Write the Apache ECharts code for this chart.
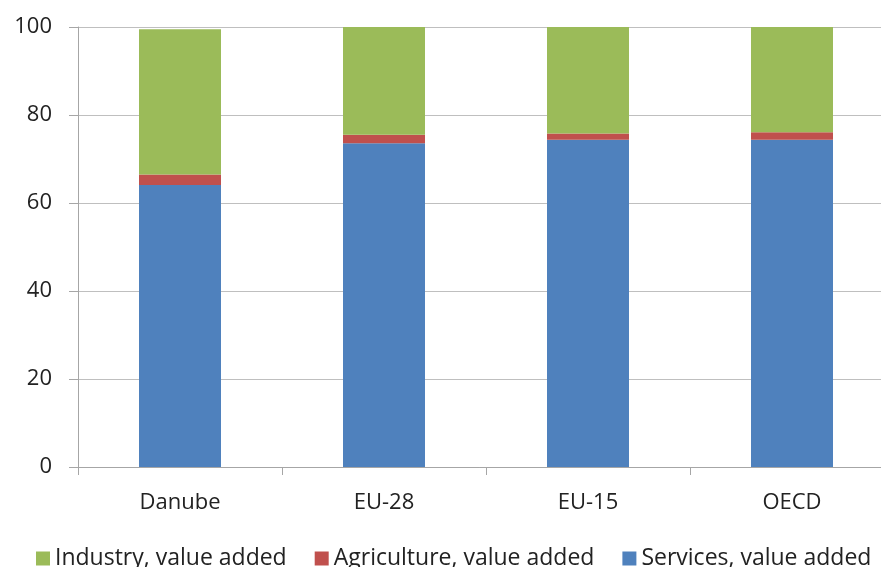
<!DOCTYPE html>
<html>
<head>
<meta charset="utf-8">
<script src="https://cdn.jsdelivr.net/npm/echarts@6/dist/echarts.min.js"></script>
<style>
  html, body { margin: 0; padding: 0; background: #fff; }
  #chart { width: 881px; height: 567px; }
</style>
</head>
<body>
<div id="chart"></div>
<script>
const regions = ['Danube', 'EU-28', 'EU-15', 'OECD'];
const services = [64.1, 73.6, 74.4, 74.4];
const agriculture = [2.4, 1.9, 1.4, 1.7];
const industry = [33.0, 24.5, 24.2, 23.9];

const chart = echarts.init(document.getElementById('chart'));
const font = 'Open Sans, Liberation Sans, sans-serif';

const option = {
  animation: false,
  textStyle: { fontFamily: font },
  grid: { left: 78, top: 27, height: 440, width: 816, outerBoundsMode: 'none', containLabel: false },
  legend: {
    data: ['Industry, value added', 'Agriculture, value added', 'Services, value added'],
    left: 31,
    top: 542,
    itemWidth: 14,
    itemHeight: 14,
    itemGap: 28,
    icon: 'rect',
    textStyle: { fontSize: 23, color: '#222', fontFamily: font }
  },
  xAxis: {
    type: 'category',
    data: regions,
    axisLine: { lineStyle: { color: '#a6a6a6' } },
    axisTick: { show: true, length: 8, alignWithLabel: false, lineStyle: { color: '#a6a6a6' } },
    axisLabel: { fontSize: 22, color: '#222', margin: 25 }
  },
  yAxis: {
    type: 'value',
    min: 0,
    max: 100,
    interval: 20,
    axisLine: { show: true, lineStyle: { color: '#a6a6a6' } },
    axisTick: { show: true, length: 9, lineStyle: { color: '#a6a6a6' } },
    splitLine: { lineStyle: { color: '#bfbfbf' } },
    axisLabel: { fontSize: 22, color: '#222', margin: 26 }
  },
  series: [
    {
      name: 'Services, value added',
      type: 'bar',
      stack: 'total',
      barWidth: 82,
      data: services,
      itemStyle: { color: '#4f81bd' }
    },
    {
      name: 'Agriculture, value added',
      type: 'bar',
      stack: 'total',
      barWidth: 82,
      data: agriculture,
      itemStyle: { color: '#c0504d' }
    },
    {
      name: 'Industry, value added',
      type: 'bar',
      stack: 'total',
      barWidth: 82,
      data: industry,
      itemStyle: { color: '#9bbb59' }
    }
  ]
};

chart.setOption(option);
</script>
</body>
</html>
